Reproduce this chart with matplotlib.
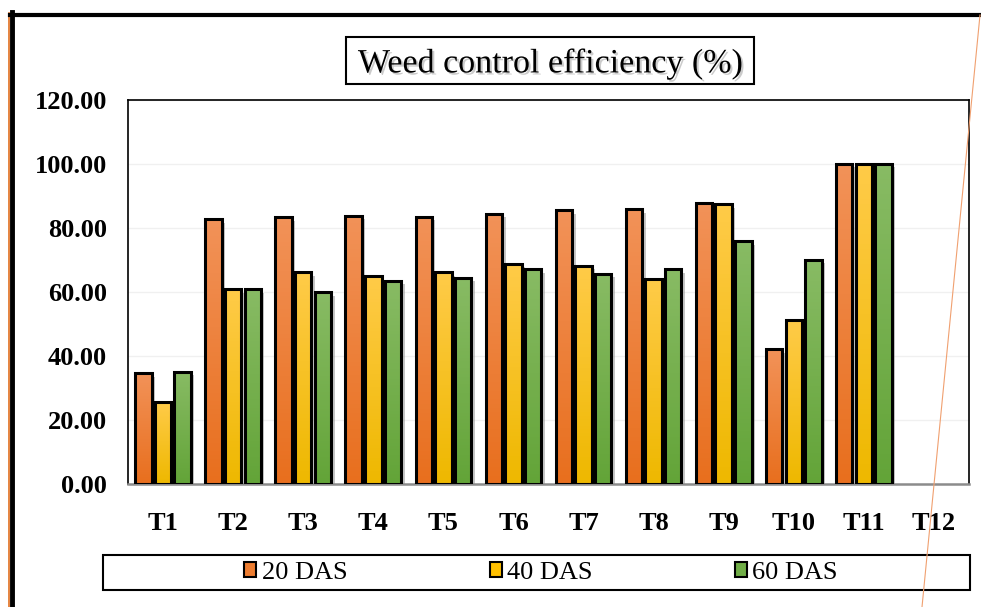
import numpy as np
import matplotlib
matplotlib.use("Agg")
import matplotlib.pyplot as plt
import matplotlib.patheffects as pe
from matplotlib.colors import LinearSegmentedColormap
from matplotlib.patches import Rectangle, Patch
from matplotlib.lines import Line2D

# data
treatments = ["T1", "T2", "T3", "T4", "T5", "T6", "T7", "T8", "T9", "T10", "T11", "T12"]
das20 = [34.6, 82.7, 83.4, 83.8, 83.5, 84.5, 85.6, 85.9, 87.8, 42.1, 100.0, 0.0]
das40 = [25.5, 60.9, 66.1, 64.9, 66.1, 68.8, 68.2, 64.0, 87.4, 51.2, 100.0, 0.0]
das60 = [35.1, 60.9, 59.9, 63.5, 64.5, 67.1, 65.7, 67.1, 75.8, 70.0, 100.0, 0.0]
series_names = ["20 DAS", "40 DAS", "60 DAS"]
y_ticks = [0, 20, 40, 60, 80, 100, 120]

plt.rcParams['font.family'] = ['Liberation Serif', 'DejaVu Serif']

# base colour, gradient top, gradient bottom
colours = [("#ED7D31", "#F29258", "#E86F1E"),
           ("#FFC000", "#FFCB48", "#EEB800"),
           ("#70AD47", "#88BB64", "#63A438")]

fig = plt.figure(figsize=(9.81, 6.07), dpi=100)
W, H = 981, 607

def fx(px):
    return px / W

def fy(py):
    return 1 - py / H

ax = fig.add_axes([fx(128), fy(484), fx(969) - fx(128), fy(100) - fy(484)])

x = np.arange(len(treatments))
width = 0.235
offsets = [-0.28, 0.0, 0.28]
shadow = [pe.SimplePatchShadow(offset=(2.5, -2.5), shadow_rgbFace="#7f7f7f", alpha=0.45), pe.Normal()]

for vals, off, (base, top, bot) in zip([das20, das40, das60], offsets, colours):
    bars = ax.bar(x + off, vals, width, color=base, edgecolor="none", zorder=2,
                  path_effects=shadow)
    cmap = LinearSegmentedColormap.from_list("g", [bot, top])
    grad = np.linspace(0, 1, 64).reshape(-1, 1)
    for b in bars:
        if b.get_height() <= 0:
            continue
        x0, y0 = b.get_x(), b.get_y()
        im = ax.imshow(grad, cmap=cmap, origin="lower", aspect="auto", zorder=2.5,
                       extent=[x0, x0 + b.get_width(), y0, y0 + b.get_height()])
        im.set_clip_path(b)
    edges = ["black" if v > 0 else "none" for v in vals]
    ax.bar(x + off, vals, width, facecolor="none", edgecolor=edges, linewidth=2.2, zorder=3)

ax.set_xlim(-0.5, len(treatments) - 0.5)
ax.set_ylim(0, 120)
ax.set_yticks(y_ticks)
ax.set_yticklabels([f"{v:.2f}" for v in y_ticks], fontsize=19, fontweight="bold")
ax.set_xticks(x)
ax.set_xticklabels(treatments, fontsize=19, fontweight="bold")
ax.tick_params(axis="y", length=0, pad=15)
ax.tick_params(axis="x", length=0, pad=20)
ax.yaxis.grid(True, color="#f0f0f0", linewidth=1, zorder=0)
ax.set_axisbelow(True)
for s in ["top", "right", "left"]:
    ax.spines[s].set_color("black")
    ax.spines[s].set_linewidth(1.2)
ax.spines["bottom"].set_color("#8c8c8c")
ax.spines["bottom"].set_linewidth(1.8)

# title in a box
fig.patches.append(Rectangle((fx(346), fy(84)), fx(754) - fx(346), fy(37) - fy(84),
                             transform=fig.transFigure, facecolor="white",
                             edgecolor="black", linewidth=1.5, zorder=1))
fig.text(fx(550), fy(64), "Weed control efficiency (%)", fontsize=24.5,
         ha="center", va="center", zorder=2,
         path_effects=[pe.SimplePatchShadow(offset=(1.5, -1.5), shadow_rgbFace="#999999", alpha=0.5),
                       pe.Normal()])

# legend in a box below the axis
fig.patches.append(Rectangle((fx(103), fy(590)), fx(970) - fx(103), fy(555) - fy(590),
                             transform=fig.transFigure, facecolor="white",
                             edgecolor="black", linewidth=1.5, zorder=1))
handles = [Patch(facecolor=c[0], edgecolor="black", linewidth=1.5) for c in colours]
fig.legend(handles, series_names, loc="center", bbox_to_anchor=(fx(541), fy(573)),
           ncol=3, frameon=False, fontsize=19, handlelength=0.45, handleheight=0.5,
           handletextpad=0.2, columnspacing=5.4, borderpad=0)

# outer frame of the pasted picture
fig.lines.append(Line2D([fx(9), fx(9)], [0, fy(13)], transform=fig.transFigure,
                        color="#E07020", linewidth=1.2))
fig.lines.append(Line2D([fx(12), fx(12)], [0, fy(12)], transform=fig.transFigure,
                        color="black", linewidth=3.5))
fig.lines.append(Line2D([fx(10), fx(981)], [fy(14.5), fy(14.5)], transform=fig.transFigure,
                        color="black", linewidth=3))
fig.lines.append(Line2D([fx(980), fx(922)], [fy(15), fy(607)], transform=fig.transFigure,
                        color="#F0A070", linewidth=0.8))

fig.savefig("out.png", dpi=100)
